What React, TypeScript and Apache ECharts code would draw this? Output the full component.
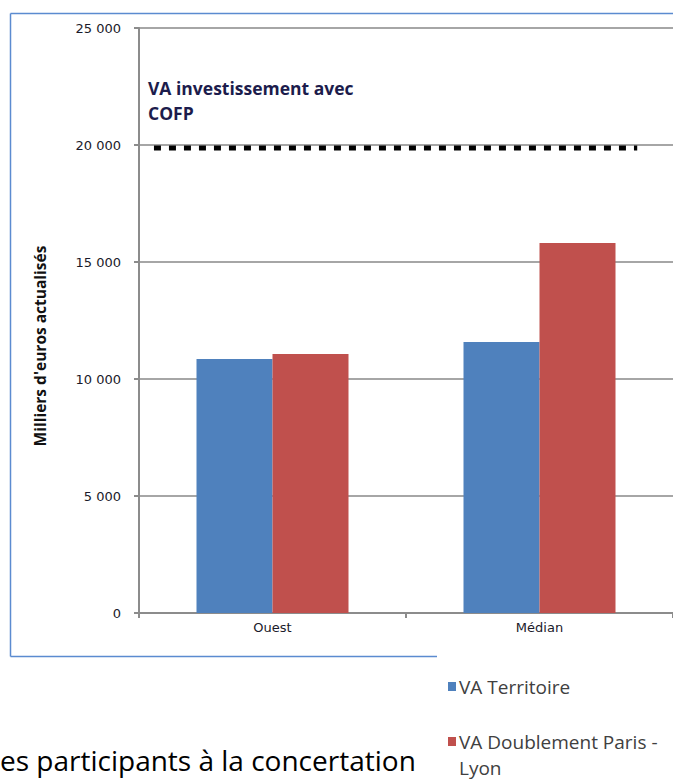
import React, { useEffect, useRef } from "react";
import * as echarts from "echarts";

const categories = ["Ouest", "Médian"];
const vaTerritoire = [10850, 11580];
const vaDoublement = [11070, 15810];
const seriesNames = ["VA Territoire", "VA Doublement Paris - Lyon"];
const cofpLabel = "VA investissement avec\nCOFP";
const cofpValue = 19870;
const cofpSpan = [0.028, 0.933];
const yTicks = [0, 5000, 10000, 15000, 20000, 25000];
const yAxisName = "Milliers d'euros actualisés";
const footerText = "es participants à la concertation";

const BLUE = "#4f81bd";
const RED = "#c0504d";
const GRID = "#a6a6a6";
const AXIS = "#8c8c8c";

function fmt(v: number): string {
  if (v === 0) return "0";
  return Math.round(v / 1000) + " 000";
}

export default function App() {
  const ref = useRef<HTMLDivElement>(null);
  useEffect(() => {
    if (!ref.current) return;
    const chart = echarts.init(ref.current, null, { renderer: "svg" });
    chart.setOption({
      animation: false,
      backgroundColor: "#ffffff",
      grid: { left: 139, top: 28, bottom: 169, right: -3, containLabel: false },
      xAxis: [
        {
          type: "category",
          data: categories,
          axisLine: { lineStyle: { color: AXIS, width: 2 } },
          axisTick: { show: true, length: 5, lineStyle: { color: AXIS, width: 2 } },
          axisLabel: { margin: 8, fontSize: 13, fontFamily: "DejaVu Sans", color: "#1a1a2a" },
        },
        { type: "value", min: 0, max: 1, show: false },
      ],
      yAxis: {
        type: "value",
        min: yTicks[0],
        max: yTicks[yTicks.length - 1],
        interval: 5000,
        axisLine: { show: true, lineStyle: { color: AXIS, width: 2 } },
        axisTick: { show: true, length: 5, lineStyle: { color: AXIS, width: 2 } },
        axisLabel: {
          margin: 18,
          fontSize: 13,
          fontFamily: "DejaVu Sans",
          color: "#1a1a2a",
          formatter: (v: number) => fmt(v),
        },
        splitLine: { show: true, lineStyle: { color: GRID, width: 2 } },
      },
      series: [
        {
          name: seriesNames[0],
          type: "bar",
          data: vaTerritoire,
          barWidth: 76,
          barGap: "0%",
          itemStyle: { color: BLUE },
        },
        {
          name: seriesNames[1],
          type: "bar",
          data: vaDoublement,
          barWidth: 76,
          barGap: "0%",
          itemStyle: { color: RED },
        },
        {
          name: "COFP",
          type: "line",
          xAxisIndex: 1,
          symbol: "none",
          data: cofpSpan.map((x) => [x, cofpValue]),
          lineStyle: { color: "#000000", width: 5, type: [7, 8] },
          z: 5,
        },
      ],
      graphic: [
        { type: "line", shape: { x1: 10.5, y1: 13.5, x2: 680, y2: 13.5 }, style: { stroke: "#5b8bd0", lineWidth: 1.5 } },
        { type: "line", shape: { x1: 10.5, y1: 13.5, x2: 10.5, y2: 656.5 }, style: { stroke: "#5b8bd0", lineWidth: 1.5 } },
        { type: "line", shape: { x1: 10.5, y1: 656.5, x2: 437, y2: 656.5 }, style: { stroke: "#5b8bd0", lineWidth: 1.5 } },
        {
          type: "text",
          x: 148,
          y: 75,
          style: {
            text: cofpLabel,
            fontSize: 17.5,
            fontWeight: "bold",
            fontFamily: "Open Sans",
            fill: "#1c1c4c",
            lineHeight: 25,
          },
        },
        {
          type: "text",
          x: 40,
          y: 346,
          rotation: Math.PI / 2,
          style: {
            text: yAxisName,
            fontSize: 15.5,
            fontWeight: "bold",
            fontFamily: "Open Sans",
            fill: "#111111",
            align: "center",
            verticalAlign: "middle",
          },
        },
        { type: "rect", shape: { x: 448, y: 682, width: 8, height: 9 }, style: { fill: BLUE } },
        {
          type: "text",
          x: 459,
          y: 687,
          style: {
            text: seriesNames[0],
            fontSize: 19,
            fontFamily: "Open Sans",
            fill: "#404040",
            verticalAlign: "middle",
          },
        },
        { type: "rect", shape: { x: 448, y: 737, width: 8, height: 9 }, style: { fill: RED } },
        {
          type: "text",
          x: 459,
          y: 729,
          style: {
            text: "VA Doublement Paris -\nLyon",
            fontSize: 19,
            fontFamily: "Open Sans",
            fill: "#404040",
            lineHeight: 26,
          },
        },
        {
          type: "text",
          x: 0,
          y: 760,
          style: {
            text: footerText,
            fontSize: 28,
            fontFamily: "Open Sans",
            fill: "#000000",
            verticalAlign: "middle",
          },
        },
      ],
    });
    return () => chart.dispose();
  }, []);
  return (
    <div
      ref={ref}
      style={{ position: "absolute", left: 0, top: 0, width: 673, height: 782, background: "#fff" }}
    />
  );
}
